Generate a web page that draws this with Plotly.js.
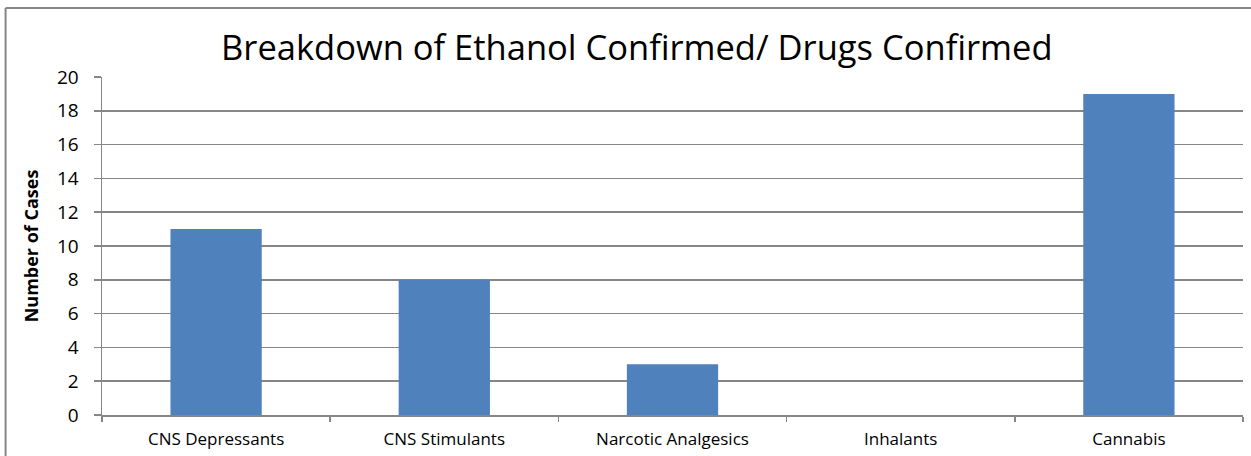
<!DOCTYPE html>
<html>
<head>
<meta charset="utf-8">
<script src="https://cdn.plot.ly/plotly-3.0.1.min.js"></script>
<style>
  html, body { margin: 0; padding: 0; background: #fff; overflow: hidden; }
  #chart { width: 1251px; height: 456px; }
</style>
</head>
<body>
<div id="chart"></div>
<script>
// Drug classes confirmed alongside ethanol
const categories = ["CNS Depressants", "CNS Stimulants", "Narcotic Analgesics", "Inhalants", "Cannabis"];
const caseCounts = [11, 8, 3, 0, 19];
const yTickValues = [0, 2, 4, 6, 8, 10, 12, 14, 16, 18, 20];

const chartTitle = "Breakdown of Ethanol Confirmed/ Drugs Confirmed";
const yAxisTitle = "Number of Cases";

const GRID = "#868686";
const FONT = "Open Sans, Liberation Sans, sans-serif";

const trace = {
  type: "bar",
  x: categories,
  y: caseCounts,
  marker: { color: "#4F81BD", line: { width: 0 } },
  hoverinfo: "x+y"
};

const layout = {
  width: 1251,
  height: 456,
  margin: { l: 102, r: 8, t: 77, b: 41, pad: 0 },
  paper_bgcolor: "#ffffff",
  plot_bgcolor: "#ffffff",
  bargap: 0.6,
  showlegend: false,
  font: { family: FONT, color: "#000000" },
  title: {
    text: chartTitle,
    font: { family: FONT, size: 34.5, color: "#000000" },
    x: 0.509, xanchor: "center",
    y: 0.895, yanchor: "middle"
  },
  xaxis: {
    type: "category",
    tickson: "boundaries",
    ticks: "outside",
    ticklen: 5,
    tickcolor: GRID,
    tickwidth: 1.5,
    showline: true,
    linecolor: GRID,
    linewidth: 1.5,
    showgrid: false,
    ticklabelstandoff: 8,
    tickfont: { family: FONT, size: 17, color: "#000000" },
    fixedrange: true
  },
  yaxis: {
    range: [0, 20],
    tickmode: "array",
    tickvals: yTickValues,
    ticks: "outside",
    ticklen: 7,
    tickcolor: GRID,
    tickwidth: 1.5,
    showline: true,
    linecolor: GRID,
    linewidth: 1.5,
    showgrid: true,
    gridcolor: GRID,
    gridwidth: 1.5,
    zeroline: false,
    ticklabelstandoff: 11,
    tickfont: { family: FONT, size: 19, color: "#000000" },
    title: {
      text: "<b>" + yAxisTitle + "</b>",
      font: { family: FONT, size: 18, color: "#000000" },
      standoff: 13
    },
    fixedrange: true
  },
  shapes: [
    // chart frame: left and top edges
    {
      type: "line",
      xref: "paper", yref: "paper",
      x0: -0.0845, x1: -0.0845, y0: -0.3, y1: 1.204,
      line: { color: GRID, width: 2 },
      layer: "below"
    },
    {
      type: "line",
      xref: "paper", yref: "paper",
      x0: -0.0845, x1: 1.05, y0: 1.204, y1: 1.204,
      line: { color: GRID, width: 2 },
      layer: "below"
    }
  ]
};

Plotly.newPlot("chart", [trace], layout, { displayModeBar: false, staticPlot: true });
</script>
</body>
</html>
